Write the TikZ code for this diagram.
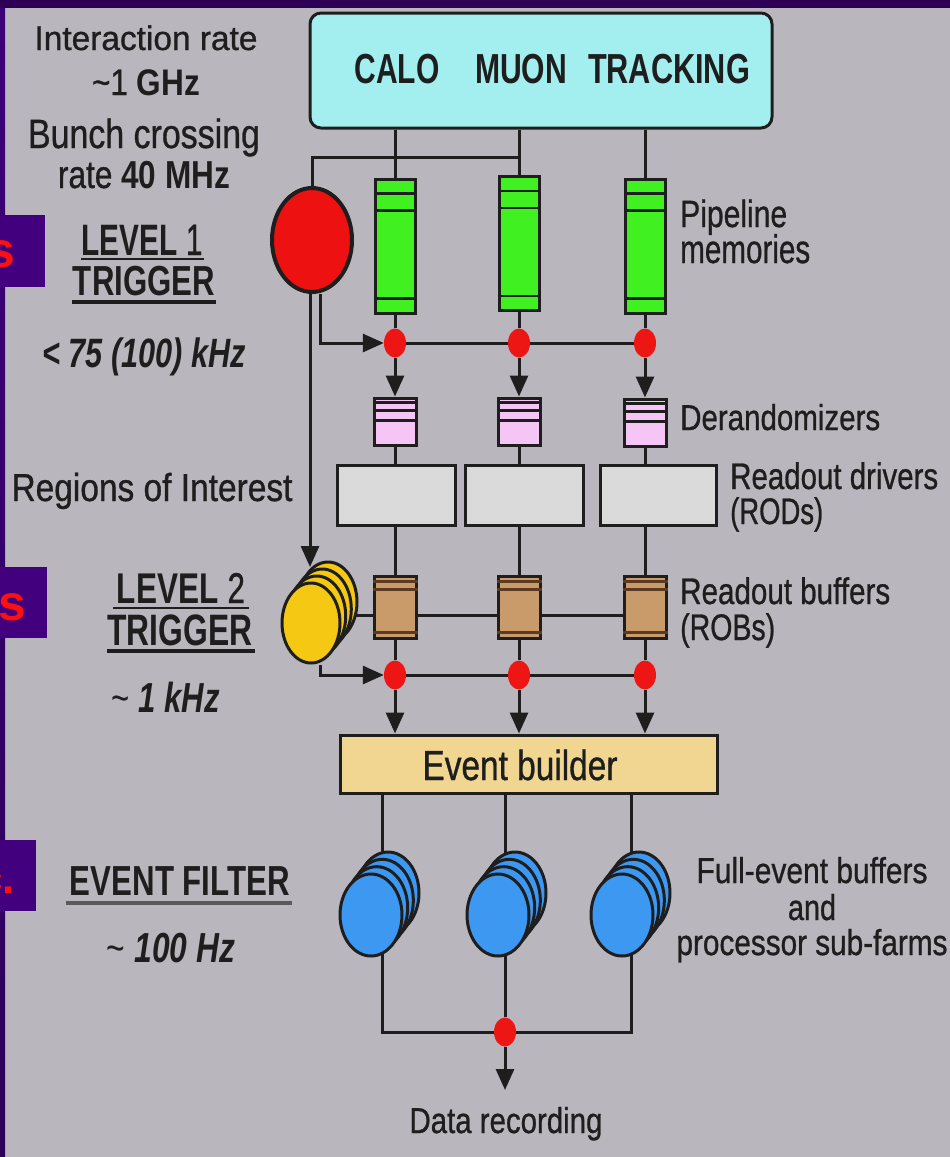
\documentclass[tikz,border=0pt]{standalone}
\usepackage{fontspec}
\setmainfont{Liberation Sans}
\newfontfamily\medf{Liberation Sans}[FakeBold=0.9]
\usetikzlibrary{arrows.meta,calc,shapes.geometric}
\definecolor{bggrey}{HTML}{B9B7BD}
\definecolor{topdark}{HTML}{2D0055}
\definecolor{purplebox}{HTML}{42007F}
\definecolor{redtxt}{HTML}{FF1010}
\definecolor{ink}{HTML}{1E1E1E}
\definecolor{cyanbox}{HTML}{A3EFF0}
\definecolor{pipegreen}{HTML}{40F020}
\definecolor{pinkbox}{HTML}{F5C6F5}
\definecolor{rodgrey}{HTML}{DADADA}
\definecolor{robtan}{HTML}{C99B6B}
\definecolor{robdark}{HTML}{5A3A20}
\definecolor{ebwheat}{HTML}{F0D690}
\definecolor{bluefarm}{HTML}{3D98F2}
\definecolor{yellowl}{HTML}{F5C814}
\definecolor{redl}{HTML}{EE1111}
\definecolor{dotred}{HTML}{EE1515}
\newcommand\fw[2]{\resizebox{#1}{\height}{#2}}
\newcommand\fs[1]{\fontsize{#1}{#1}\selectfont}
\pgfdeclarelayer{back}
\pgfdeclarelayer{conn}
\pgfsetlayers{back,conn,main}
\begin{document}
\begin{tikzpicture}[x=1pt,y=-1pt,
  lab/.style={inner sep=0pt, anchor=base, text=ink},
  labw/.style={inner sep=0pt, anchor=base west, text=ink},
  line/.style={draw=ink, line width=3pt},
  arr/.style={draw=ink, line width=3pt, -{Triangle[length=21pt,width=18pt]}},
  inner/.style={draw=ink, line width=2.5pt},
  pipe/.style={draw=ink, line width=3pt, fill=pipegreen, minimum width=40pt, minimum height=134pt, inner sep=0pt},
  der/.style={draw=ink, line width=3pt, fill=pinkbox, minimum width=42pt, minimum height=47pt, inner sep=0pt},
  rod/.style={draw=ink, line width=3pt, fill=rodgrey, minimum height=60pt, inner sep=0pt},
  rob/.style={draw=ink, line width=3pt, fill=robtan, minimum width=42pt, minimum height=62pt, inner sep=0pt},
  dot/.style={ellipse, fill=dotred, minimum width=22pt, minimum height=29pt, inner sep=0pt},
  farm/.style={ellipse, draw=ink, line width=3pt, fill=bluefarm, minimum width=62pt, minimum height=82pt, inner sep=0pt},
  yel/.style={ellipse, draw=ink, line width=3pt, fill=yellowl, minimum width=58pt, minimum height=80pt, inner sep=0pt},
  tag/.style={fill=purplebox, draw=none}
]
\useasboundingbox (0,0) rectangle (950,1157);
\begin{pgfonlayer}{back}
  \fill[bggrey] (0,0) rectangle (950,1157);
  \fill[topdark] (0,0) rectangle (950,8);
  \shade[top color={rgb,255:red,60;green,0;blue,120}, middle color={rgb,255:red,76;green,0;blue,146}, bottom color={rgb,255:red,44;green,0;blue,88}] (0,8) rectangle (5,1157);
  % cut-off side tags
  \fill[tag] (0,215) rectangle (45,287);
  \fill[tag] (0,567) rectangle (47,638);
  \fill[tag] (0,840) rectangle (36,911);
  \begin{scope}
    \clip (0,215) rectangle (45,287);
    \node[inner sep=0pt, anchor=base east, text=redtxt, font=\fs{50}\bfseries] (s1) at (16,267) {s};
  \end{scope}
  \begin{scope}
    \clip (0,567) rectangle (47,638);
    \node[inner sep=0pt, anchor=base east, text=redtxt, font=\fs{50}\bfseries] (s2) at (26,620) {ns};
  \end{scope}
  \begin{scope}
    \clip (0,840) rectangle (36,911);
    \node[inner sep=0pt, anchor=base east, text=redtxt, font=\fs{44}\bfseries] (s3) at (15,893) {c.};
  \end{scope}
\end{pgfonlayer}

% detector box
\node[draw=ink, line width=3pt, fill=cyanbox, rounded corners=11pt, minimum width=462pt, minimum height=115pt, inner sep=0pt] (det) at (541,70.5) {};
\node[lab, font=\fs{42}\bfseries] (calo) at (397,83) {\fw{85pt}{CALO}};
\node[lab, font=\fs{42}\bfseries] (muon) at (521,83) {\fw{92pt}{MUON}};
\node[lab, font=\fs{42}\bfseries] (trk) at (669,83) {\fw{162pt}{TRACKING}};

% level 1 trigger
\node[ellipse, draw=ink, line width=4pt, fill=redl, minimum width=80pt, minimum height=104pt, inner sep=0pt] (l1) at (312,240) {};

% pipelines
\node[pipe] (p1) at (395,246) {};
\node[pipe] (p2) at (519,243.5) {};
\node[pipe] (p3) at (645,246) {};
\foreach \i in {1,2,3}{
  \draw[inner] ($(p\i.north west)+(0,16)$) -- ($(p\i.north east)+(0,16)$);
  \draw[inner] ($(p\i.north west)+(0,33)$) -- ($(p\i.north east)+(0,33)$);
  \draw[inner] ($(p\i.south west)+(0,-16)$) -- ($(p\i.south east)+(0,-16)$);
}
% first dot row
\node[dot] (d1) at (395,343) {};
\node[dot] (d2) at (519,343) {};
\node[dot] (d3) at (645,343) {};
% derandomizers
\node[der] (r1) at (395,421.5) {};
\node[der] (r2) at (519,421.5) {};
\node[der] (r3) at (645,422.5) {};
\foreach \i in {1,2,3}{
  \draw[inner] ($(r\i.north west)+(0,6)$) -- ($(r\i.north east)+(0,6)$);
  \draw[inner] ($(r\i.north west)+(0,14)$) -- ($(r\i.north east)+(0,14)$);
  \draw[inner] ($(r\i.north west)+(0,24)$) -- ($(r\i.north east)+(0,24)$);
}
% RODs
\node[rod, minimum width=118pt] (o1) at (396,495) {};
\node[rod, minimum width=118pt] (o2) at (524,495) {};
\node[rod, minimum width=116pt] (o3) at (658,495) {};
% ROBs
\node[rob] (b1) at (395,607) {};
\node[rob] (b2) at (519,607) {};
\node[rob] (b3) at (645,607) {};
\foreach \i in {1,2,3}{
  \draw[draw=robdark, line width=2.5pt] ($(b\i.north west)+(0,7)$) -- ($(b\i.north east)+(0,7)$);
  \draw[draw=robdark, line width=2.5pt] ($(b\i.north west)+(0,15)$) -- ($(b\i.north east)+(0,15)$);
  \draw[draw=robdark, line width=2.5pt] ($(b\i.south west)+(0,-7)$) -- ($(b\i.south east)+(0,-7)$);
}
% level 2 trigger (stack)
\node[yel] (y3) at (328,602) {};
\node[yel] (y2) at (322.3,609) {};
\node[yel] (y1) at (316.7,616) {};
\node[yel] (y0) at (311,623) {};
% second dot row
\node[dot] (e1) at (395,675) {};
\node[dot] (e2) at (519,675) {};
\node[dot] (e3) at (645,675) {};
% event builder
\node[draw=ink, line width=3pt, fill=ebwheat, minimum width=377pt, minimum height=58pt, inner sep=0pt] (eb) at (528.5,764) {};
\node[lab, font=\fs{42}\medf] (ebt) at (520,780) {\fw{195pt}{Event builder}};
% farms
\foreach \n/\fx in {f/371, g/498, h/622}{
  \foreach \k in {3,2,1,0}{
    \node[farm] (\n\k) at ({\fx+\k*17/3},{915-\k*22/3}) {};
  }
}
% bottom dot
\node[dot] (z) at (505,1032) {};
\coordinate (hl) at (382,1032);
\coordinate (hr) at (631,1032);
\coordinate (rec) at (505,1090);
\coordinate (j1) at (519,157);
\coordinate (k0) at (345,615);

\begin{pgfonlayer}{conn}
  % detector to pipelines
  \draw[line] (det.south -| p1.north) -- (p1.north);
  \draw[line] (det.south -| p2.north) -- (p2.north);
  \draw[line] (det.south -| p3.north) -- (p3.north);
  \draw[line] (l1.north) |- (j1);
  % pipelines to dots to derandomizers
  \foreach \i in {1,2,3}{
    \draw[line] (p\i.south) -- (d\i.north);
    \draw[arr] (d\i.south) -- (r\i.north);
    \draw[line] (r\i.south) -- (r\i.south |- o\i.north);
    \draw[line] (r\i.south |- o\i.south) -- (b\i.north);
    \draw[line] (b\i.south) -- (e\i.north);
    \draw[arr] (e\i.south) -- (e\i.south |- eb.north);
  }
  \draw[line] (d1) -- (d3);
  \draw[arr] ([xshift=8pt]l1.south) |- (d1.west);
  \draw[arr] ([xshift=-2pt]l1.south) -- ([xshift=-2pt]l1.south |- 0,567);
  % ROB chain
  \draw[line] (k0) -- (b3.west |- k0);
  % level 2 to second dot row
  \draw[line] (e1) -- (e3);
  \draw[arr] ([xshift=9pt]y0.south) |- (e1.west);
  % event builder to farms
  \draw[line] (eb.south -| hl) -- (hl) -- (hr) -- (eb.south -| hr);
  \draw[line] (eb.south -| z) -- (z);
  \draw[arr] (z.south) -- (rec);
\end{pgfonlayer}

% left labels
\node[lab, font=\fs{34}\medf] (t1) at (146,50) {\fw{223pt}{Interaction rate}};
\node[lab, font=\fs{37}] (t2) at (146,95) {\fw{108pt}{{\medf\textasciitilde1} \textbf{GHz}}};
\node[lab, font=\fs{41}\medf] (t3) at (144,148) {\fw{232pt}{Bunch crossing}};
\node[lab, font=\fs{39}] (t4) at (144,188) {\fw{172pt}{{\medf rate} \textbf{40 MHz}}};
\node[lab, font=\fs{44}] (t5) at (142,255) {\fw{121pt}{\textbf{LEVEL} {\medf 1}}};
\node[lab, font=\fs{42}\bfseries] (t6) at (144,295) {\fw{142pt}{TRIGGER}};
\draw[draw=ink, line width=2pt] (81,259) -- (204,259);
\draw[draw=ink, line width=4pt] (72,302) -- (216,302);
\node[lab, font=\fs{41}\bfseries\itshape] (t7) at (144,367) {\fw{204pt}{< 75 (100) kHz}};
\node[lab, font=\fs{39}\medf] (t8) at (152,501) {\fw{281pt}{Regions of Interest}};
\node[lab, font=\fs{43}] (t9) at (181,603) {\fw{128pt}{\textbf{LEVEL} {\medf 2}}};
\node[lab, font=\fs{44}\bfseries] (t10) at (180,645) {\fw{145pt}{TRIGGER}};
\draw[draw=ink, line width=2pt] (113,608) -- (249,608);
\draw[draw=ink, line width=4pt] (107,651) -- (255,651);
\node[lab, font=\fs{42}] (t11) at (166,712) {\fw{108pt}{\textasciitilde{} \textbf{\itshape 1 kHz}}};
\node[lab, font=\fs{42}\bfseries] (t12) at (180,895) {\fw{220pt}{EVENT FILTER}};
\draw[draw={rgb,255:red,90;green,90;blue,90}, line width=4pt] (66,903) -- (292,903);
\node[lab, font=\fs{42}] (t13) at (171,962) {\fw{128pt}{\textasciitilde{} \textbf{\itshape 100 Hz}}};

% right labels
\node[labw, font=\fs{38}\medf] (u1) at (680,227) {\fw{107pt}{Pipeline}};
\node[labw, font=\fs{40}\medf] (u2) at (680,263) {\fw{130pt}{memories}};
\node[labw, font=\fs{36}\medf] (u3) at (680,430) {\fw{200pt}{Derandomizers}};
\node[labw, font=\fs{37}\medf] (u4) at (730,489) {\fw{208pt}{Readout drivers}};
\node[labw, font=\fs{37}\medf] (u5) at (730,524) {\fw{93pt}{(RODs)}};
\node[labw, font=\fs{37}\medf] (u6) at (680,604) {\fw{210pt}{Readout buffers}};
\node[labw, font=\fs{37}\medf] (u7) at (680,640) {\fw{95pt}{(ROBs)}};
\node[lab, font=\fs{36}\medf] (u8) at (812,883) {\fw{231pt}{Full-event buffers}};
\node[lab, font=\fs{36}\medf] (u9) at (812,920) {\fw{48pt}{and}};
\node[lab, font=\fs{36}\medf] (u10) at (812,955) {\fw{271pt}{processor sub-farms}};
\node[lab, font=\fs{36}\medf] (u11) at (506,1133) {\fw{193pt}{Data recording}};
\end{tikzpicture}
\end{document}
